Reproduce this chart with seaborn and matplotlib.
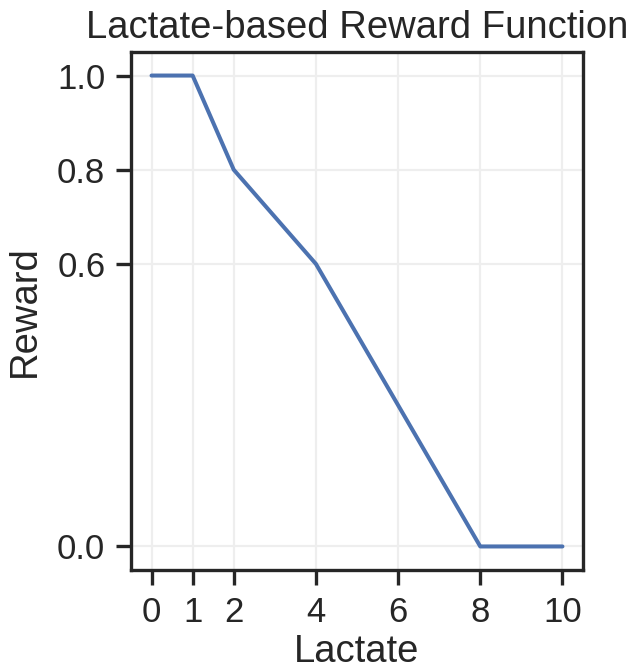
import seaborn as sns
import matplotlib.pyplot as plt
import pandas as pd

lactate = [0, 1, 2, 4, 8, 10]
reward = [1.0, 1.0, 0.8, 0.6, 0.0, 0.0]
x_ticks = [0, 1, 2, 4, 6, 8, 10]
y_ticks = [0.0, 0.6, 0.8, 1.0]

sns.set_theme(style="ticks")
plt.rcParams["font.family"] = ["Liberation Sans", "DejaVu Sans"]
plt.rcParams["text.color"] = "#262626"
plt.rcParams["axes.labelcolor"] = "#262626"
plt.rcParams["xtick.color"] = "#262626"
plt.rcParams["ytick.color"] = "#262626"

df = pd.DataFrame({"Lactate": lactate, "Reward": reward})

fig = plt.figure(figsize=(6.32, 6.69), dpi=100)
ax = fig.add_axes([131 / 632, 1 - 570 / 669, (583 - 131) / 632, (570 - 52) / 669])
sns.lineplot(data=df, x="Lactate", y="Reward", ax=ax, color="#4C72B0", linewidth=2.9)

ax.set_xticks(x_ticks)
ax.set_yticks(y_ticks)
ax.set_xticklabels([str(t) for t in x_ticks])
ax.set_yticklabels(["%.1f" % t for t in y_ticks])
ax.tick_params(labelsize=25, length=10.5, width=2.4, pad=8)
ax.grid(True, color="#eeeeee", linewidth=1.6)
ax.set_axisbelow(True)
for s in ax.spines.values():
    s.set_linewidth(2.4)
    s.set_color("#262626")
ax.set_xlabel("Lactate", fontsize=27.5, labelpad=4)
ax.set_ylabel("Reward", fontsize=27.5, labelpad=10)
ax.set_title("Lactate-based Reward Function", fontsize=27.5, pad=10)

plt.savefig("out.png", dpi=100)
